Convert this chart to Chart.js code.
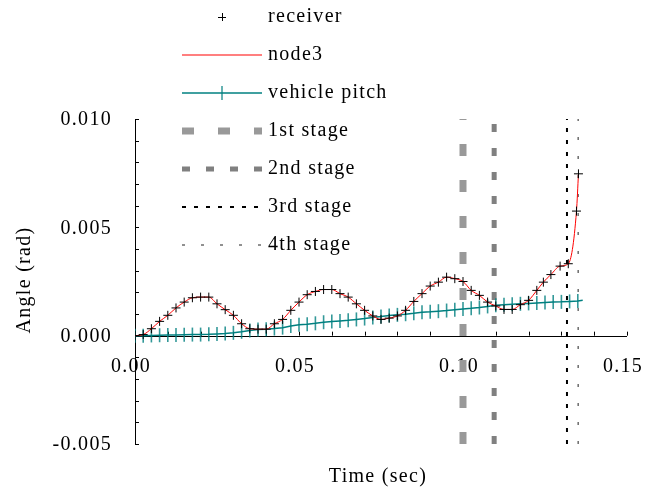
<!DOCTYPE html>
<html>
<head>
<meta charset="utf-8">
<script src="https://cdn.jsdelivr.net/npm/chart.js@4"></script>
<style>
  body { margin: 0; background: #fff; }
</style>
</head>
<body>
<canvas id="angleChart" width="660" height="497"></canvas>
<script>
// time (sec) of the receiver samples
let receiverTime = [0, 0.0025, 0.005, 0.0075, 0.01, 0.0125, 0.015, 0.0175, 0.02, 0.0225,
    0.025, 0.0275, 0.03, 0.0325, 0.035, 0.0375, 0.04, 0.0425, 0.045, 0.0475,
    0.05, 0.0525, 0.055, 0.0575, 0.06, 0.0625, 0.065, 0.0675, 0.07, 0.0725,
    0.075, 0.0775, 0.08, 0.0825, 0.085, 0.0875, 0.09, 0.0925, 0.095, 0.0975,
    0.1, 0.1025, 0.105, 0.1075, 0.11, 0.1125, 0.115, 0.1175, 0.12, 0.1225,
    0.1245, 0.1268, 0.1296, 0.1321, 0.1346, 0.1352];
// receiver angle (rad), node3 follows the same points
let receiverAngle = [0, 0.00005, 0.00032, 0.00066, 0.00094, 0.00128, 0.00155, 0.00175, 0.00178, 0.00178,
    0.00147, 0.0012, 0.00094, 0.00055, 0.00032, 0.0003, 0.0003, 0.00055, 0.00075, 0.00117,
    0.00155, 0.00189, 0.00204, 0.00213, 0.00213, 0.00194, 0.00178, 0.00147, 0.00117, 0.00091,
    0.00075, 0.00081, 0.00091, 0.00117, 0.00158, 0.00194, 0.00229, 0.00247, 0.0027, 0.00263,
    0.0025, 0.00209, 0.00186, 0.00155, 0.00137, 0.00121, 0.00121, 0.00143, 0.00163, 0.00209,
    0.00247, 0.00282, 0.00321, 0.00332, 0.00575, 0.00747];
let node3Angle = receiverAngle;

let pitchTime = [0, 0.0025, 0.005, 0.0075, 0.01, 0.0125, 0.015, 0.0175, 0.02, 0.0225,
    0.025, 0.0275, 0.03, 0.0325, 0.035, 0.0375, 0.04, 0.0425, 0.045, 0.0475,
    0.05, 0.0525, 0.055, 0.0575, 0.06, 0.0625, 0.065, 0.0675, 0.07, 0.0725,
    0.075, 0.0775, 0.08, 0.0825, 0.085, 0.0875, 0.09, 0.0925, 0.095, 0.0975,
    0.1, 0.1025, 0.105, 0.1075, 0.11, 0.1125, 0.115, 0.1175, 0.12, 0.1225,
    0.125, 0.1275, 0.13, 0.1325, 0.135, 0.1365];
let pitchAngle = [0, 0, 0.00001, 0.00002, 0.00003, 0.00003, 0.00004, 0.00005, 0.00005, 0.00006,
    0.00008, 0.0001, 0.00013, 0.00018, 0.00024, 0.00028, 0.0003, 0.00033, 0.00037, 0.00045,
    0.0005, 0.00053, 0.00057, 0.00062, 0.00065, 0.00068, 0.00071, 0.00075, 0.00079, 0.00084,
    0.00088, 0.00093, 0.00096, 0.00099, 0.00103, 0.00108, 0.0011, 0.00113, 0.00116, 0.0012,
    0.00123, 0.00126, 0.0013, 0.00135, 0.0014, 0.00143, 0.00145, 0.00147, 0.00149, 0.00151,
    0.00153, 0.00155, 0.00156, 0.00158, 0.0016, 0.00163];

// stage separation times
let stageNames = ['1st stage', '2nd stage', '3rd stage', '4th stage'];
let stageTimes = [0.1, 0.1095, 0.1317, 0.1351];

let yTicks = [0.010, 0.005, 0.000, -0.005];
let xTicks = [0.00, 0.05, 0.10, 0.15];

let stageStyles = [
    { color: '#999999', width: 7, dash: [12, 24] },
    { color: '#808080', width: 5, dash: [8, 16] },
    { color: '#000000', width: 2, dash: [4, 8] },
    { color: '#222222', width: 1, dash: [3, 16] }
];

const FONT = '20px "Liberation Serif", "Times New Roman", serif';
const TEAL = '#008080';
const TEAL_MARK = 'rgba(0,128,128,0.8)';

function toPoints(xs, ys) {
    return xs.map((x, i) => ({ x: x, y: ys[i] }));
}

let datasets = [
    {
        label: 'receiver', data: toPoints(receiverTime, receiverAngle),
        showLine: false, pointStyle: 'cross', pointRadius: 4.5,
        borderColor: '#000', pointBorderWidth: 1, order: 0
    },
    {
        label: 'node3', data: toPoints(receiverTime, node3Angle),
        borderColor: '#ff0000', borderWidth: 1, pointRadius: 0,
        cubicInterpolationMode: 'monotone', order: 1
    },
    {
        label: 'vehicle pitch', data: toPoints(pitchTime, pitchAngle),
        borderColor: TEAL, borderWidth: 1.5, pointStyle: 'line', pointRotation: 90,
        pointRadius: ctx => ctx.dataIndex === pitchTime.length - 1 ? 0 : 7,
        pointBorderColor: TEAL_MARK, pointBorderWidth: 1.6, order: 2
    }
];

stageTimes.forEach((t, i) => {
    let s = stageStyles[i];
    datasets.push({
        label: stageNames[i],
        // drawn bottom to top
        data: [{ x: t, y: -0.005 }, { x: t, y: 0.01 }],
        borderColor: s.color, borderWidth: s.width, borderDash: s.dash,
        borderCapStyle: 'butt', pointRadius: 0, clip: false, order: 5
    });
});

// axes with inward ticks, crossing at zero
const axesPlugin = {
    id: 'axesPlugin',
    beforeDatasetsDraw(chart) {
        const ctx = chart.ctx;
        const xs = chart.scales.x, ys = chart.scales.y;
        const x0 = xs.getPixelForValue(0), y0 = ys.getPixelForValue(0);
        ctx.save();
        ctx.strokeStyle = '#000';
        ctx.lineWidth = 1;
        ctx.beginPath();
        ctx.moveTo(x0 + 0.5, ys.getPixelForValue(0.01));
        ctx.lineTo(x0 + 0.5, ys.getPixelForValue(-0.005));
        ctx.moveTo(x0, Math.round(y0) + 0.5);
        ctx.lineTo(xs.getPixelForValue(0.15), Math.round(y0) + 0.5);
        for (let k = -5; k <= 10; k++) {
            let py = Math.round(ys.getPixelForValue(k / 1000)) + 0.5;
            ctx.moveTo(x0, py);
            ctx.lineTo(x0 + 4, py);
        }
        for (let k = 1; k <= 15; k++) {
            let px = Math.round(xs.getPixelForValue(k / 100)) + 0.5;
            ctx.moveTo(px, y0);
            ctx.lineTo(px, y0 - 4);
        }
        ctx.stroke();

        ctx.fillStyle = '#000';
        ctx.font = FONT;
        ctx.letterSpacing = '1.3px';
        ctx.textBaseline = 'middle';
        ctx.textAlign = 'right';
        yTicks.forEach(v => {
            ctx.fillText(v.toFixed(3), 112, ys.getPixelForValue(v) + 1);
        });
        ctx.textAlign = 'center';
        xTicks.forEach(v => {
            ctx.fillText(v.toFixed(2), xs.getPixelForValue(v) - 4, y0 + 31);
        });
        ctx.fillText('Time (sec)', 378, 477);
        ctx.translate(25, 280);
        ctx.rotate(-Math.PI / 2);
        ctx.fillText('Angle (rad)', 0, 0);
        ctx.restore();
    }
};

// legend column on top of the plot
const legendPlugin = {
    id: 'legendPlugin',
    afterDraw(chart) {
        const ctx = chart.ctx;
        const left = 182, right = 262, mid = 222, textX = 268;
        const rowY = [17, 55, 93, 131, 169, 207, 245];
        const labels = ['receiver', 'node3', 'vehicle pitch'].concat(stageNames);
        ctx.save();
        labels.forEach((label, i) => {
            let y = rowY[i];
            ctx.setLineDash([]);
            if (i === 0) {
                ctx.strokeStyle = '#000';
                ctx.lineWidth = 1;
                ctx.beginPath();
                ctx.moveTo(mid - 4, y + 0.5); ctx.lineTo(mid + 4, y + 0.5);
                ctx.moveTo(mid + 0.5, y - 4); ctx.lineTo(mid + 0.5, y + 4);
                ctx.stroke();
            } else if (i === 1) {
                ctx.strokeStyle = 'rgb(255,0,0)';
                ctx.lineWidth = 1.2;
                ctx.beginPath();
                ctx.moveTo(left, y); ctx.lineTo(right, y);
                ctx.stroke();
            } else if (i === 2) {
                ctx.strokeStyle = TEAL;
                ctx.lineWidth = 1.5;
                ctx.beginPath();
                ctx.moveTo(left, y); ctx.lineTo(right, y);
                ctx.stroke();
                ctx.strokeStyle = TEAL_MARK;
                ctx.beginPath();
                ctx.moveTo(mid, y - 7); ctx.lineTo(mid, y + 7);
                ctx.stroke();
            } else {
                let s = stageStyles[i - 3];
                ctx.strokeStyle = s.color;
                ctx.lineWidth = s.width;
                ctx.lineCap = 'butt';
                ctx.setLineDash(s.dash);
                ctx.beginPath();
                ctx.moveTo(left, y); ctx.lineTo(right, y);
                ctx.stroke();
            }
            ctx.setLineDash([]);
            ctx.fillStyle = '#000';
            ctx.font = FONT;
            ctx.letterSpacing = '1.3px';
            ctx.textAlign = 'left';
            ctx.textBaseline = 'middle';
            ctx.fillText(label, textX, y);
        });
        ctx.restore();
    }
};

new Chart(document.getElementById('angleChart').getContext('2d'), {
    type: 'line',
    data: { datasets: datasets },
    options: {
        responsive: false,
        animation: false,
        layout: { padding: { left: 135, right: 33, top: 119, bottom: 53 } },
        scales: {
            x: { type: 'linear', min: 0, max: 0.15, display: false },
            y: { type: 'linear', min: -0.005, max: 0.01, display: false }
        },
        plugins: {
            legend: { display: false },
            tooltip: { enabled: false }
        }
    },
    plugins: [axesPlugin, legendPlugin]
});
</script>
</body>
</html>
